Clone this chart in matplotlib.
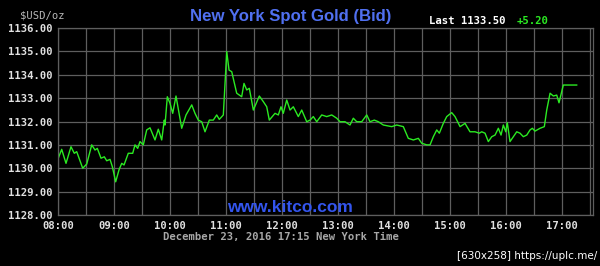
import matplotlib
matplotlib.use('Agg')
import matplotlib.pyplot as plt

# Spot gold bid, Dec 23 2016 (hours, New York time)
hours = [8.005, 8.066, 8.143, 8.232, 8.291, 8.334, 8.441, 8.513, 8.602, 8.661,
         8.702, 8.768, 8.827, 8.870, 8.929, 8.970, 9.030, 9.089, 9.138, 9.179,
         9.255, 9.334, 9.375, 9.423, 9.464, 9.523, 9.584, 9.643, 9.732, 9.791,
         9.852, 9.898, 9.911, 9.952, 10.000, 10.048, 10.107, 10.209, 10.286, 10.388,
         10.446, 10.505, 10.566, 10.625, 10.702, 10.773, 10.834, 10.880, 10.952, 11.013,
         11.054, 11.102, 11.191, 11.280, 11.321, 11.370, 11.416, 11.488, 11.595, 11.666,
         11.727, 11.773, 11.875, 11.934, 11.982, 12.023, 12.084, 12.143, 12.202, 12.291,
         12.352, 12.441, 12.500, 12.559, 12.620, 12.709, 12.798, 12.888, 12.977, 13.036,
         13.125, 13.214, 13.273, 13.334, 13.423, 13.513, 13.571, 13.648, 13.720, 13.809,
         13.898, 13.959, 14.048, 14.166, 14.255, 14.345, 14.434, 14.495, 14.584, 14.643,
         14.702, 14.763, 14.809, 14.880, 14.941, 15.030, 15.089, 15.179, 15.268, 15.357,
         15.446, 15.523, 15.566, 15.625, 15.684, 15.745, 15.804, 15.863, 15.911, 15.952,
         15.995, 16.023, 16.071, 16.130, 16.191, 16.250, 16.309, 16.370, 16.429, 16.470,
         16.518, 16.607, 16.684, 16.727, 16.786, 16.845, 16.905, 16.946, 17.023, 17.262]
prices = [1130.43, 1130.81, 1130.21, 1130.92, 1130.64, 1130.71, 1130.00, 1130.18, 1131.00, 1130.78,
          1130.85, 1130.43, 1130.49, 1130.32, 1130.38, 1130.07, 1129.42, 1129.93, 1130.21, 1130.14,
          1130.64, 1130.64, 1131.00, 1130.85, 1131.14, 1131.00, 1131.64, 1131.73, 1131.21, 1131.67,
          1131.21, 1132.06, 1131.85, 1133.06, 1132.78, 1132.35, 1133.09, 1131.71, 1132.28, 1132.71,
          1132.35, 1132.06, 1131.99, 1131.56, 1132.06, 1132.06, 1132.28, 1132.09, 1132.28, 1134.99,
          1134.20, 1134.13, 1133.21, 1133.06, 1133.63, 1133.35, 1133.42, 1132.49, 1133.09, 1132.85,
          1132.63, 1132.06, 1132.35, 1132.28, 1132.63, 1132.35, 1132.92, 1132.49, 1132.63, 1132.21,
          1132.49, 1131.99, 1132.06, 1132.21, 1131.99, 1132.28, 1132.21, 1132.28, 1132.14, 1131.99,
          1131.99, 1131.85, 1132.14, 1131.99, 1131.99, 1132.28, 1131.99, 1132.06, 1131.99, 1131.85,
          1131.81, 1131.78, 1131.85, 1131.78, 1131.28, 1131.21, 1131.28, 1131.07, 1131.00, 1131.00,
          1131.35, 1131.64, 1131.50, 1131.92, 1132.21, 1132.38, 1132.21, 1131.78, 1131.92, 1131.56,
          1131.56, 1131.50, 1131.56, 1131.50, 1131.14, 1131.35, 1131.42, 1131.71, 1131.42, 1131.85,
          1131.56, 1131.95, 1131.14, 1131.35, 1131.56, 1131.50, 1131.35, 1131.42, 1131.64, 1131.71,
          1131.59, 1131.71, 1131.78, 1132.49, 1133.21, 1133.09, 1133.13, 1132.80, 1133.56, 1133.56]

hour_ticks = list(range(8, 18))
hour_labels = ['%02d:00' % h for h in hour_ticks]
price_ticks = list(range(1128, 1137))
price_labels = ['%.2f' % p for p in price_ticks]
last_price = '1133.50'
change = '+5.20'

mono = 'DejaVu Sans Mono'
grid_col = '#5e5e5e'

fig = plt.figure(figsize=(6, 2.66), dpi=100, facecolor='black')
ax = fig.add_axes([58/600, 1-215/266, 535/600, 187/266], facecolor='black')

ax.plot(hours, prices, color='#2bea22', linewidth=1.0)

ax.set_xlim(8, 17.553)
ax.set_ylim(1128, 1136)
ax.set_xticks(hour_ticks)
ax.set_xticklabels(hour_labels)
ax.set_xticks([h + 0.5 for h in hour_ticks], minor=True)
ax.set_yticks(price_ticks)
ax.set_yticklabels(price_labels)
ax.grid(True, which='both', axis='x', color=grid_col, linewidth=0.9)
ax.grid(True, which='major', axis='y', color=grid_col, linewidth=0.9)
ax.tick_params(which='both', length=0, colors='#e0e0e0', pad=4)
for lab in ax.get_xticklabels() + ax.get_yticklabels():
    lab.set_fontfamily(mono)
    lab.set_fontweight('bold')
    lab.set_fontsize(7.6)
for sp in ax.spines.values():
    sp.set_color(grid_col)
    sp.set_linewidth(0.9)

fig.text(20/600, 1-16/266, '$USD/oz', color='#b8b8b8', family=mono, fontsize=7.6,
         va='center', ha='left')
fig.text(291/600, 1-16/266, 'New York Spot Gold (Bid)', color='#5070f0',
         family='Liberation Sans', fontweight='bold', fontsize=12.1, va='center', ha='center')
fig.text(429/600, 1-21/266, 'Last ' + last_price, color='white', family=mono,
         fontweight='bold', fontsize=7.7, va='center', ha='left')
fig.text(517/600, 1-21/266, change, color='#2bea22', family=mono,
         fontweight='bold', fontsize=7.7, va='center', ha='left')
fig.text(290/600, 1-207/266, 'www.kitco.com', color='#3355ee',
         family='Liberation Sans', fontweight='bold', fontsize=12.5, va='center', ha='center')
fig.text(281/600, 1-237/266, 'December 23, 2016 17:15 New York Time', color='#a8a8a8',
         family=mono, fontweight='bold', fontsize=7.6, va='center', ha='center')
fig.text(597/600, 1-256/266, '[630x258] https://uplc.me/', color='white',
         family='DejaVu Sans', fontsize=7.5, va='center', ha='right')

fig.savefig('out.png', dpi=100, facecolor='black')
